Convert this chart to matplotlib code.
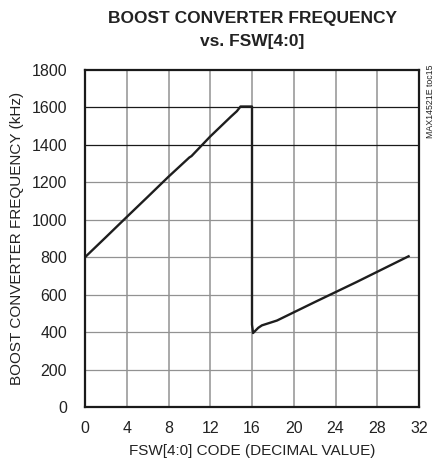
import matplotlib
matplotlib.use('Agg')
import matplotlib.pyplot as plt

plt.rcParams['font.family'] = ['Liberation Sans', 'DejaVu Sans']

# measured curve: FSW[4:0] code vs boost converter frequency (kHz)
fsw_code = [0, 2, 4, 6, 8, 10, 10.2, 12, 14, 14.55, 14.9, 16.0,
            16.0, 16.0, 16.1, 16.6, 16.95, 17.9, 18.4, 22, 26, 31]
freq_khz = [800, 907, 1015, 1122, 1230, 1333, 1340, 1445, 1552, 1580, 1605, 1605,
            500, 440, 395, 423, 436, 453, 462, 560, 667, 805]

x_ticks = [0, 4, 8, 12, 16, 20, 24, 28, 32]
y_ticks = [0, 200, 400, 600, 800, 1000, 1200, 1400, 1600, 1800]
dark_grid = [1400, 1600]

fig = plt.figure(figsize=(4.44, 4.67), dpi=100)
ax = fig.add_axes([85 / 444, 1 - 407 / 467, 334 / 444, 337 / 467])

# grid
for xv in x_ticks[1:-1]:
    ax.axvline(xv, color='#929292', lw=1.1, zorder=1)
for yv in y_ticks[1:-1]:
    c = '#1a1a1a' if yv in dark_grid else '#929292'
    ax.axhline(yv, color=c, lw=0.9, zorder=1)

ax.plot(fsw_code, freq_khz, color='#1e1e1e', lw=1.7, zorder=3,
        solid_joinstyle='round')

ax.set_xlim(0, 32)
ax.set_ylim(0, 1800)
ax.set_xticks(x_ticks)
ax.set_yticks(y_ticks)
ax.tick_params(length=0, labelsize=11.5, labelcolor='#222222')
ax.tick_params(axis='y', pad=13)
ax.tick_params(axis='x', pad=10)
for s in ax.spines.values():
    s.set_linewidth(1.6)
    s.set_color('#1a1a1a')
    s.set_zorder(4)

ax.set_xlabel('FSW[4:0] CODE (DECIMAL VALUE)', fontsize=11, labelpad=6, color='#222222')
ax.set_ylabel('BOOST CONVERTER FREQUENCY (kHz)', fontsize=11, labelpad=5, color='#222222')

fig.text(252 / 444, 1 - 18.5 / 467, 'BOOST CONVERTER FREQUENCY', ha='center',
         va='center', fontsize=12.5, fontweight='bold', color='#222222')
fig.text(252 / 444, 1 - 41.5 / 467, 'vs. FSW[4:0]', ha='center',
         va='center', fontsize=12.5, fontweight='bold', color='#222222')
fig.text(430 / 444, 1 - 65 / 467, 'MAX14521E toc15', rotation=90, ha='center',
         va='top', fontsize=6.3, color='#222222')

plt.savefig('out.png', dpi=100)
